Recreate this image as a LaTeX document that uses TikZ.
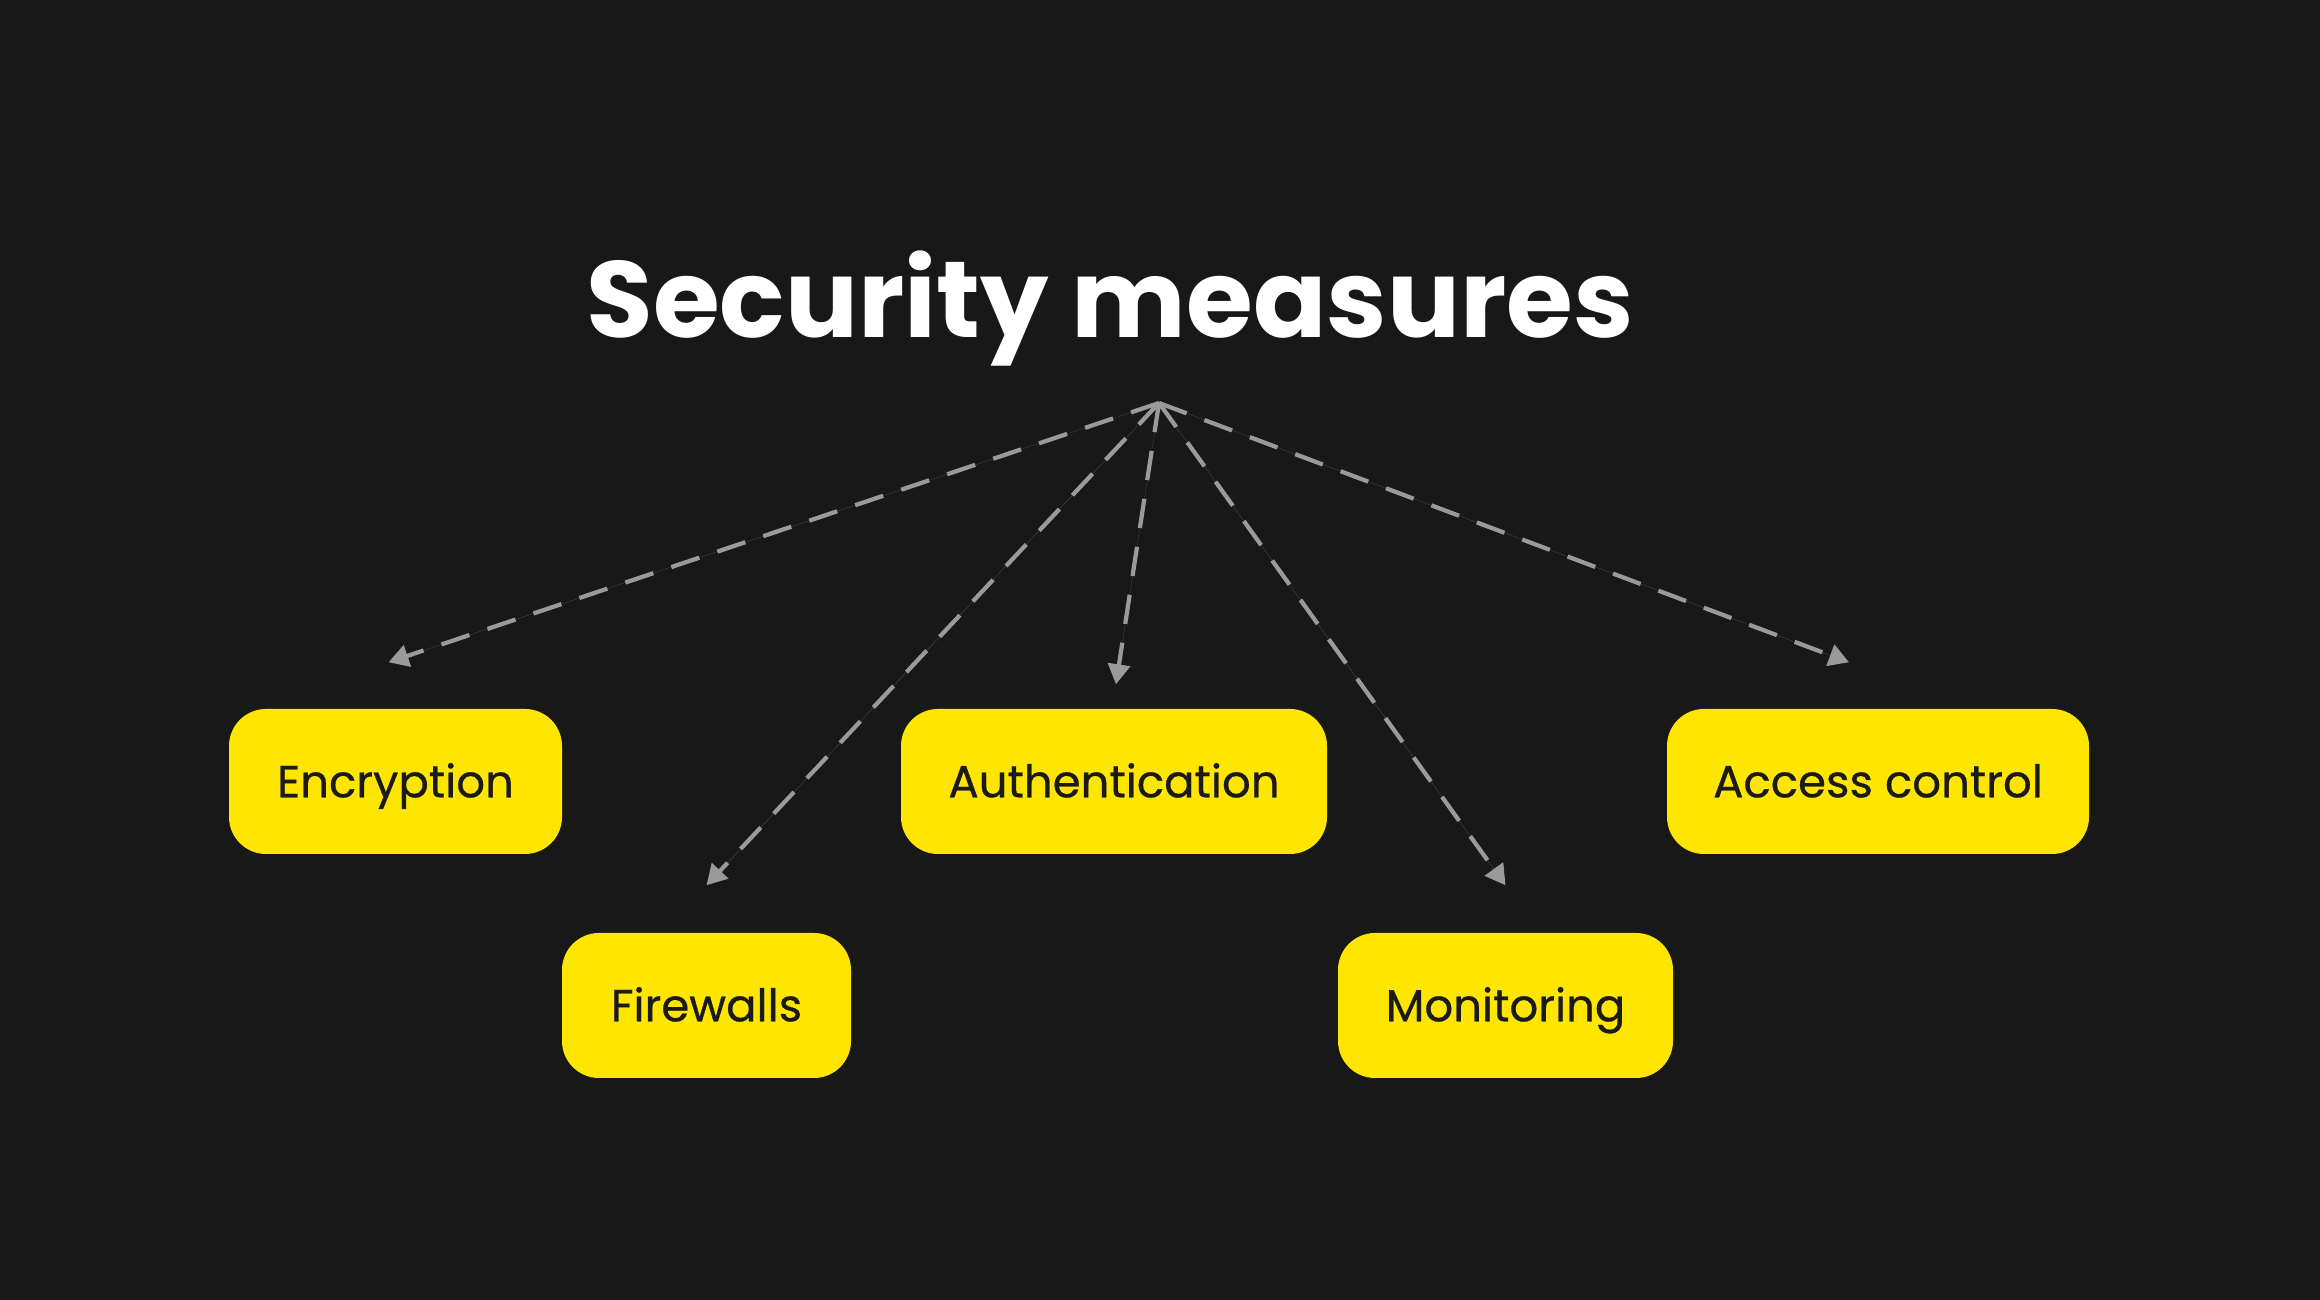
\documentclass[tikz,border=0pt]{standalone}
\usepackage{fontspec}
\setmainfont{Poppins}
\newfontfamily\medfont[FakeBold=0.6]{Poppins}
\usepackage{tikz}
\usetikzlibrary{arrows.meta,calc,positioning}
\definecolor{smbg}{HTML}{181818}
\definecolor{smyellow}{HTML}{FFE600}
\definecolor{smink}{HTML}{1A1A1A}
\definecolor{smgray}{HTML}{9A9A9A}

\begin{document}
\begin{tikzpicture}[
 measurebox/.style={fill=smyellow,rounded corners=3.7mm,align=center,minimum height=14.5mm,inner sep=0pt,text height=9pt,text depth=0pt,text=smink,font=\medfont\fontsize{12.8}{15}\selectfont},
 measurearrow/.style={-{Triangle[length=2mm,width=2.2mm]},draw=smgray,fill=smgray,line width=1.2pt,dash pattern=on 8.4pt off 5.4pt}
]
\fill[smbg] (0,0) rectangle (23.2,13);
\useasboundingbox (0,0) rectangle (23.2,13);
\node[anchor=base,text=white,font=\fontsize{30.8}{36}\selectfont\bfseries] (title) at (11.10,9.62) {Security measures};
\coordinate (hub) at (11.59,8.97);
\node[measurebox,minimum width=33.3mm] (encryption) at (3.955,5.185) {Encryption};
\node[measurebox,minimum width=28.9mm] (firewalls) at (7.065,2.945) {Firewalls};
\node[measurebox,minimum width=42.6mm] (authentication) at (11.14,5.185) {Authentication};
\node[measurebox,minimum width=33.5mm] (monitoring) at (15.055,2.945) {Monitoring};
\node[measurebox,minimum width=42.2mm] (access) at (18.78,5.185) {Access control};
\coordinate (encryptiontip) at ($(encryption.north)+(-0.07,0.46)$);
\coordinate (firewallstip) at ($(firewalls.north)+(0,0.47)$);
\coordinate (authenticationtip) at ($(authentication.north)+(0.02,0.24)$);
\coordinate (monitoringtip) at ($(monitoring.north)+(0,0.47)$);
\coordinate (accesstip) at ($(access.north)+(-0.29,0.46)$);
\draw[measurearrow] (hub)--(encryptiontip);
\draw[measurearrow] (hub)--(firewallstip);
\draw[measurearrow] (hub)--(authenticationtip);
\draw[measurearrow] (hub)--(monitoringtip);
\draw[measurearrow] (hub)--(accesstip);
\end{tikzpicture}
\end{document}
